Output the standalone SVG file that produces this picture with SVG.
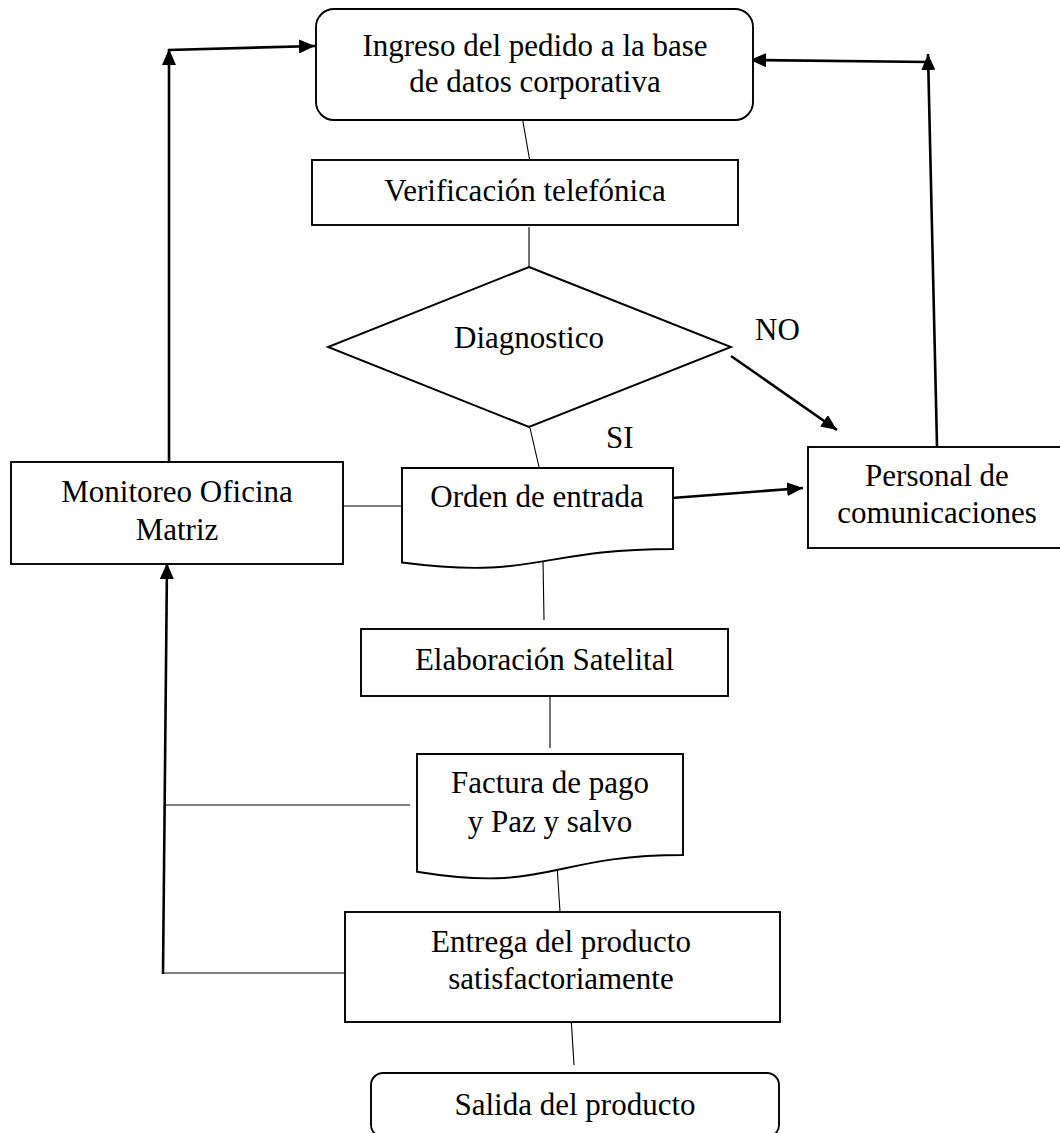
<svg xmlns="http://www.w3.org/2000/svg" width="1060" height="1133" viewBox="0 0 1060 1133">
  <style>
    .shape { fill: #ffffff; stroke: #000000; stroke-width: 1.9; }
    .lbl { font-family: "Liberation Serif", "Times New Roman", serif; font-size: 31px; fill: #000000; text-anchor: middle; }
    .lbl-start { text-anchor: start; }
    .thin { fill: none; stroke: #000000; stroke-width: 1.1; }
    .thick { fill: none; stroke: #000000; stroke-width: 2.6; }
  </style>
  <defs>
    <marker id="arrow" viewBox="0 0 16 14" refX="16" refY="7" markerWidth="16" markerHeight="14" markerUnits="userSpaceOnUse" orient="auto">
      <path d="M0,0 L16,7 L0,14 Z" fill="#000000"/>
    </marker>
  </defs>

  <rect width="1060" height="1133" fill="#ffffff"/>

  <!-- connectors -->
  <g id="connectors">
    <!-- main flow (plain lines) -->
    <line class="thin" x1="522" y1="116" x2="531" y2="168"/>
    <line class="thin" x1="529" y1="227" x2="529" y2="267"/>
    <line class="thin" x1="530" y1="428" x2="539" y2="467"/>
    <line class="thin" x1="543" y1="559" x2="544" y2="620"/>
    <line class="thin" x1="550" y1="687" x2="550" y2="748"/>
    <line class="thin" x1="557" y1="865" x2="560" y2="912"/>
    <line class="thin" x1="571" y1="1017" x2="574" y2="1065"/>
    <!-- side links -->
    <line class="thin" x1="343" y1="506" x2="407" y2="506"/>
    <line class="thin" x1="166" y1="805" x2="410" y2="805"/>
    <line class="thin" x1="163" y1="973" x2="345" y2="973"/>
    <!-- NO branch -->
    <line class="thick" x1="731" y1="356" x2="837" y2="430" marker-end="url(#arrow)"/>
    <!-- Orden de entrada to Personal -->
    <line class="thick" x1="672" y1="498" x2="803" y2="488" marker-end="url(#arrow)"/>
    <!-- left feedback loop -->
    <line class="thick" x1="163" y1="974" x2="167" y2="563" marker-end="url(#arrow)"/>
    <line class="thick" x1="169" y1="463" x2="169" y2="49" marker-end="url(#arrow)"/>
    <line class="thick" x1="168" y1="50" x2="315" y2="46" marker-end="url(#arrow)"/>
    <!-- right feedback loop -->
    <line class="thick" x1="937" y1="446" x2="928" y2="54" marker-end="url(#arrow)"/>
    <line class="thick" x1="929" y1="62" x2="750" y2="60" marker-end="url(#arrow)"/>
  </g>

  <!-- nodes -->
  <g id="ingreso">
    <rect class="shape" x="316" y="9" width="437" height="111" rx="18" ry="18"/>
    <text class="lbl" x="535" y="56">Ingreso del pedido a la base</text>
    <text class="lbl" x="535" y="92">de datos corporativa</text>
  </g>

  <g id="verificacion">
    <rect class="shape" x="312" y="160" width="426" height="65"/>
    <text class="lbl" x="525" y="201">Verificación telefónica</text>
  </g>

  <g id="diagnostico">
    <polygon class="shape" points="529,267 731,347 529,427 328,347"/>
    <text class="lbl" x="529" y="348">Diagnostico</text>
  </g>

  <g id="etiquetas">
    <text class="lbl lbl-start" x="755" y="340">NO</text>
    <text class="lbl lbl-start" x="606" y="448">SI</text>
  </g>

  <g id="orden">
    <path class="shape" d="M402,468 H673 V549 C537.5,549 537.5,580 402,562.5 Z"/>
    <text class="lbl" x="537" y="507">Orden de entrada</text>
  </g>

  <g id="personal">
    <rect class="shape" x="808" y="447" width="262" height="101"/>
    <text class="lbl" x="937" y="486">Personal de</text>
    <text class="lbl" x="937" y="523">comunicaciones</text>
  </g>

  <g id="monitoreo">
    <rect class="shape" x="11" y="462" width="332" height="102"/>
    <text class="lbl" x="177" y="502">Monitoreo Oficina</text>
    <text class="lbl" x="177" y="540">Matriz</text>
  </g>

  <g id="elaboracion">
    <rect class="shape" x="361" y="629" width="367" height="67"/>
    <text class="lbl" x="544.5" y="670">Elaboración Satelital</text>
  </g>

  <g id="factura">
    <path class="shape" d="M417,754 H683 V855 C550,855 550,893.5 417,871.7 Z"/>
    <text class="lbl" x="550" y="793">Factura de pago</text>
    <text class="lbl" x="550" y="832">y Paz y salvo</text>
  </g>

  <g id="entrega">
    <rect class="shape" x="345" y="912" width="435" height="110"/>
    <text class="lbl" x="561" y="952">Entrega del producto</text>
    <text class="lbl" x="561" y="989">satisfactoriamente</text>
  </g>

  <g id="salida">
    <rect class="shape" x="371" y="1073" width="408" height="64" rx="12" ry="12"/>
    <text class="lbl" x="575" y="1115">Salida del producto</text>
  </g>
</svg>
